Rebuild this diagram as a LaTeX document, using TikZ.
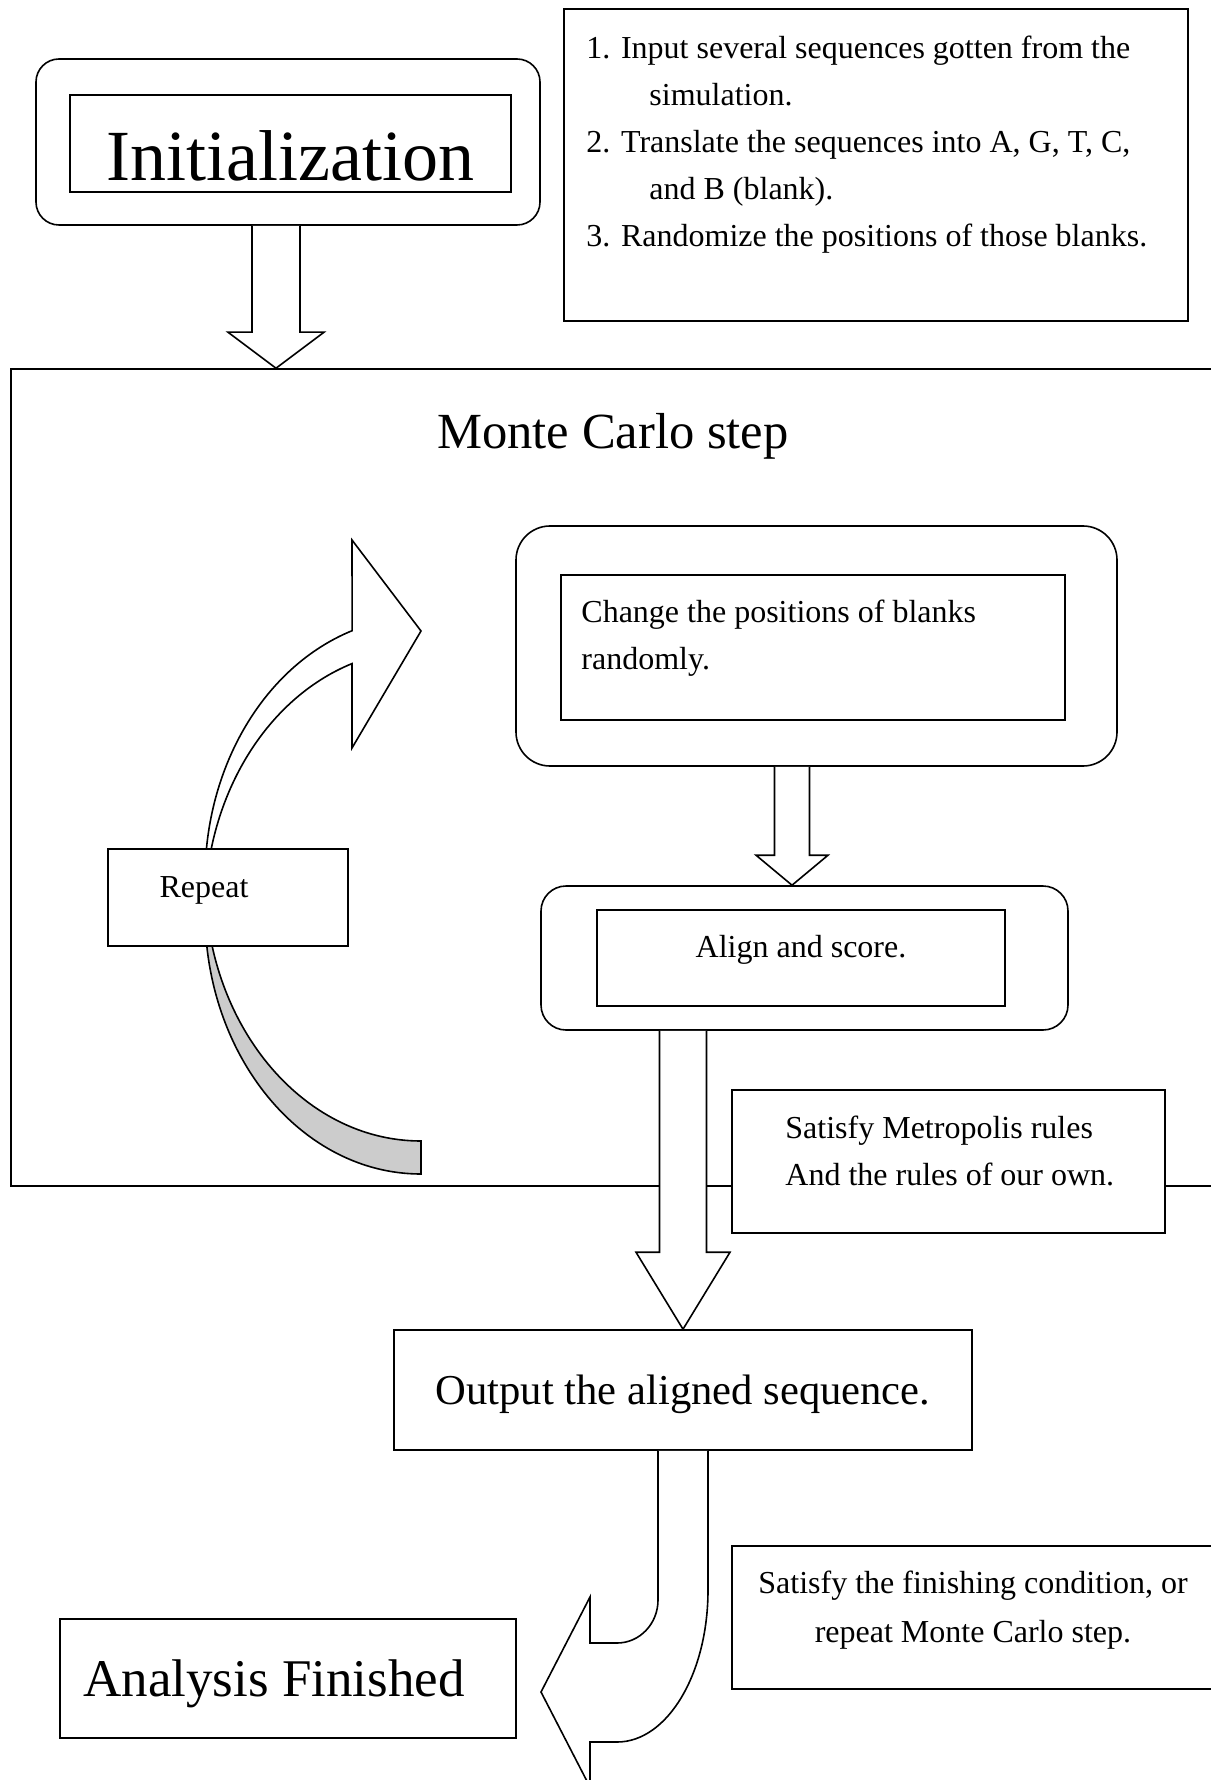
\documentclass[tikz,border=0pt]{standalone}
\usepackage{fontspec}
\setmainfont{Liberation Serif}
\usepackage{xcolor}
\usepackage{tikz}
\definecolor{backgray}{HTML}{CCCCCC}

\newcommand{\blockdown}[5]{%
  \draw[blockarrow] ([xshift=-#3]#1) -- ([xshift=-#3,yshift=#5]#2) -- ([xshift=-#4,yshift=#5]#2) -- (#2) -- ([xshift=#4,yshift=#5]#2) -- ([xshift=#3,yshift=#5]#2) -- ([xshift=#3]#1);}

\begin{document}
\begin{tikzpicture}[x=0.5pt, y=-0.5pt,
  box/.style={draw, line width=0.8pt, fill=white, inner sep=0pt},
  rbox/.style={box, rounded corners=#1},
  txt/.style={inner sep=0pt, align=left, font=\fontsize{16}{23.5}\selectfont},
  blockarrow/.style={draw, line width=0.8pt, fill=white},
  band/.style={draw, line width=0.8pt}]
\useasboundingbox (0,0) rectangle (1210,1780);

\node at (876,165) (info) [box, minimum width=312pt, minimum height=156pt] {};
\node at (586,36) (infotxt) [txt, anchor=north west] {1. Input several sequences gotten from the\\\hspace*{31.5pt}simulation.\\2. Translate the sequences into A, G, T, C,\\\hspace*{31.5pt}and B (blank).\\3. Randomize the positions of those blanks.};
\node at (288,142) (init) [rbox=11.5pt, minimum width=252pt, minimum height=83pt] {};
\node at (290.5,143.5) (initin) [box, minimum width=220.5pt, minimum height=48.5pt] {};
\node at (290,181) (inittxt) [anchor=base, inner sep=0pt, font=\fontsize{36}{40}\selectfont] {Initialization};

\node at (625.5,777.5) (mc) [draw, line width=0.8pt, inner sep=0pt, minimum width=614.5pt, minimum height=408.5pt] {};
\node at (613,436) (mctxt) [inner sep=0pt, font=\fontsize{25.3}{30}\selectfont] {Monte Carlo step};

\coordinate (a1s) at ([xshift=-6pt]init.south);
\coordinate (a1e) at (a1s |- mc.north);
\blockdown{a1s}{a1e}{12pt}{24pt}{18pt}

\draw[band, fill=white] (205,879) arc[start angle=180, end angle=251.4, x radius=216, y radius=262] -- (352,540) -- (421,631) -- (352,748) -- (352,663.6) arc[start angle=251.4, end angle=180, x radius=216, y radius=262] -- cycle;
\draw[band, fill=backgray] (205,912) arc[start angle=180, end angle=90, x radius=216, y radius=262] -- (421,1141) arc[start angle=90, end angle=180, x radius=216, y radius=262] -- cycle;
\node at (228,897.5) (rep) [box, minimum width=120pt, minimum height=48.5pt] {};
\node at (204,890) (reptxt) [txt] {Repeat};

\node at (816.5,646) (chg) [rbox=17pt, minimum width=300.5pt, minimum height=120pt] {};
\node at (813,647.5) (chgin) [box, minimum width=252pt, minimum height=72.5pt] {};
\node at (581,600) (chgtxt) [txt, anchor=north west] {Change the positions of blanks\\randomly.};

\node at (804.5,958) (aln) [rbox=12.5pt, minimum width=263.5pt, minimum height=72pt] {};
\node at (801,958) (alnin) [box, minimum width=204pt, minimum height=48pt] {};
\node at (801,950) (alntxt) [txt] {Align and score.};

\coordinate (a2s) at ([xshift=-12.25pt]chg.south);
\coordinate (a2e) at (a2s |- aln.north);
\blockdown{a2s}{a2e}{8.75pt}{18pt}{15pt}

\node at (683,1390) (out) [box, minimum width=289pt, minimum height=60pt, text height=19pt, text depth=4.6pt, font=\fontsize{21.3}{25}\selectfont] {Output the aligned sequence.};

\coordinate (a3s) at (out.north |- aln.south);
\coordinate (a3e) at (out.north);
\blockdown{a3s}{a3e}{11.75pt}{23.5pt}{38.5pt}

\node at (948.5,1161.5) (metro) [box, minimum width=216.5pt, minimum height=71.5pt] {};
\node at (785,1116) (metrotxt) [txt, anchor=north west] {Satisfy Metropolis rules\\And the rules of our own.};

\draw[blockarrow] ([xshift=-12.5pt]out.south) -- (658,1600) arc[start angle=0, end angle=90, x radius=41, y radius=43] -- (590,1643) -- (590,1597) -- (541,1692) -- (590,1787) -- (590,1742) -- (617,1742) arc[start angle=90, end angle=0, x radius=91, y radius=152] -- ([xshift=12.5pt]out.south);

\node at (986,1617.5) (fin) [box, minimum width=254pt, minimum height=71.5pt] {};
\node at (973,1610) (fintxt) [txt, align=center, font=\fontsize{16}{24.5}\selectfont] {Satisfy the finishing condition, or\\repeat Monte Carlo step.};

\node at (288,1678.5) (ana) [box, minimum width=228pt, minimum height=59.5pt] {};
\node at (83,1683.5) (anatxt) [anchor=west, inner sep=0pt, font=\fontsize{26.5}{30}\selectfont] {Analysis Finished};
\end{tikzpicture}
\end{document}
